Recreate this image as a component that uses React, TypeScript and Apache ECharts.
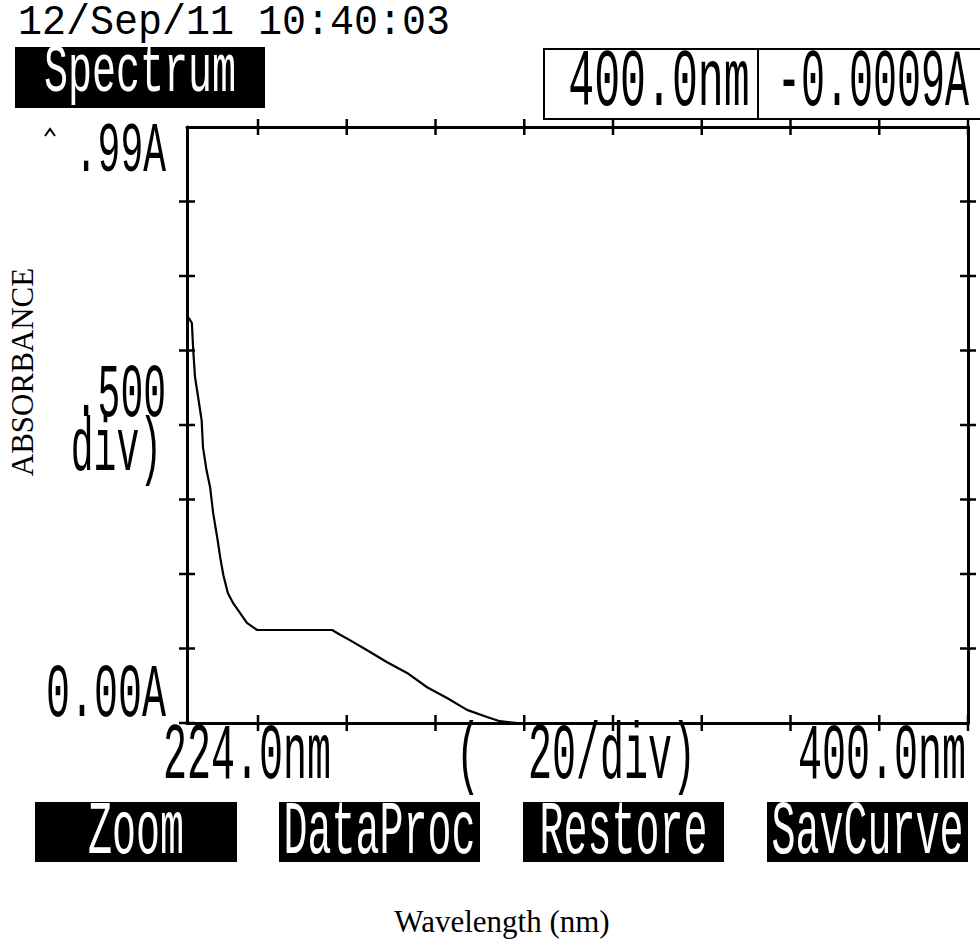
import { useEffect, useRef } from "react";
import * as echarts from "echarts";

// Absorbance spectrum, 224–400 nm
const wavelengthNm = [
  224.4, 225.1, 225.4, 225.8, 226.5, 227.3, 227.6, 228.4, 229.2, 229.9,
  230.9, 231.5, 232.2, 233.2, 234.4, 235.9, 237.5, 239.8, 245.0, 250.0,
  256.7, 258.5, 260.7, 264.6, 269.1, 273.6, 278.1, 282.6, 287.1, 291.6,
  294.5, 298.4, 320.0, 360.0, 400.0,
];
const absorbance = [
  0.68, 0.671, 0.626, 0.581, 0.547, 0.508, 0.463, 0.424, 0.396, 0.352,
  0.307, 0.277, 0.248, 0.218, 0.201, 0.185, 0.168, 0.156, 0.156, 0.156,
  0.156, 0.148, 0.139, 0.122, 0.102, 0.084, 0.06, 0.042, 0.022, 0.01,
  0.003, 0.0, 0.0, 0.0, -0.0009,
];

// Axis range and division marks
const xMin = 224;
const xMax = 400;
const yMin = 0;
const yMax = 1;
const xTickNm = [240, 260, 280, 300, 320, 340, 360, 380, 400];
const yTickAbs = [0, 0.125, 0.25, 0.375, 0.5, 0.625, 0.75, 0.875];

// Screen texts
const stamp = "12/Sep/11 10:40:03";
const modeTitle = "Spectrum";
const xEndLabels = ["224.0nm", "400.0nm"];
const xScaleLabel = "(  20/div)";
const yLabels = [".99A", ".500", "div)", "0.00A"];
const softKeys = ["Zoom", "DataProc", "Restore", "SavCurve"];
const yTitle = "ABSORBANCE";
const xTitle = "Wavelength (nm)";

const MONO = "'Liberation Mono', 'DejaVu Sans Mono', monospace";
const SERIF = "'Liberation Serif', 'Times New Roman', serif";

function lcdText(
  text: string,
  x: number,
  y: number,
  sx: number,
  sy: number,
  align: string,
  fill = "#000"
) {
  return {
    type: "text",
    x,
    y,
    scaleX: sx,
    scaleY: sy,
    silent: true,
    style: {
      text,
      fill,
      fontFamily: MONO,
      fontSize: 40,
      align,
      verticalAlign: "middle",
    },
  };
}

const frameLine = { color: "#000", width: 3 };

function frameAxis(kind: "x" | "y", position: string) {
  return {
    type: "value",
    position,
    min: kind === "x" ? xMin : yMin,
    max: kind === "x" ? xMax : yMax,
    axisLine: { show: true, onZero: false, lineStyle: frameLine },
    axisTick: { show: false },
    axisLabel: { show: false },
    splitLine: { show: false },
  };
}

// Cross-shaped division marks on all four sides of the frame: [x, y, orientation]
const crossMarks = [
  ...xTickNm.map((v) => [v, yMin, 0]),
  ...xTickNm.map((v) => [v, yMax, 0]),
  ...yTickAbs.map((v) => [xMin, v, 1]),
  ...yTickAbs.slice(1).map((v) => [xMax, v, 1]),
];

export default function App() {
  const ref = useRef<HTMLDivElement>(null);

  useEffect(() => {
    const chart = echarts.init(ref.current!, null, { renderer: "svg" });
    const last = wavelengthNm.length - 1;
    const cursorReadout = [
      `${wavelengthNm[last].toFixed(1)}nm`,
      `${absorbance[last].toFixed(4)}A`,
    ];

    const keyBoxes = [
      { x: 35, w: 202 },
      { x: 279, w: 201 },
      { x: 523, w: 201 },
      { x: 767, w: 201 },
    ];

    const graphic: any[] = [
      lcdText(stamp, 18, 23, 1.0, 1.05, "left"),
      { type: "rect", silent: true, shape: { x: 15, y: 47, width: 250, height: 61 }, style: { fill: "#000" } },
      lcdText(modeTitle, 140, 73, 1.0, 1.7, "center", "#fff"),
      {
        type: "rect",
        silent: true,
        shape: { x: 544, y: 49, width: 440, height: 70 },
        style: { fill: "none", stroke: "#000", lineWidth: 2 },
      },
      { type: "line", silent: true, shape: { x1: 758, y1: 49, x2: 758, y2: 119 }, style: { stroke: "#000", lineWidth: 2 } },
      lcdText(cursorReadout[0], 659, 83, 1.08, 2.05, "center"),
      lcdText(cursorReadout[1], 873, 83, 1.0, 2.05, "center"),
      lcdText(yLabels[0], 166, 152, 0.95, 1.75, "right"),
      { type: "polyline", silent: true, shape: { points: [[45, 136], [50, 129], [55, 136]] }, style: { stroke: "#000", lineWidth: 2, fill: "none" } },
      lcdText(yLabels[1], 166, 396, 0.95, 1.9, "right"),
      lcdText(yLabels[2], 162, 450, 0.95, 1.9, "right"),
      lcdText(yLabels[3], 166, 695, 1.0, 1.9, "right"),
      lcdText(xEndLabels[0], 163, 756, 1.0, 2.0, "left"),
      lcdText(xScaleLabel, 456, 756, 1.0, 2.0, "left"),
      lcdText(xEndLabels[1], 966, 756, 1.0, 2.0, "right"),
      {
        type: "text",
        x: 22,
        y: 372,
        rotation: Math.PI / 2,
        silent: true,
        style: { text: yTitle, fill: "#000", fontFamily: SERIF, fontSize: 31, align: "center", verticalAlign: "middle" },
      },
      {
        type: "text",
        x: 502,
        y: 921,
        silent: true,
        style: { text: xTitle, fill: "#000", fontFamily: SERIF, fontSize: 31, align: "center", verticalAlign: "middle" },
      },
    ];

    softKeys.forEach((label, i) => {
      const b = keyBoxes[i];
      graphic.push({
        type: "rect",
        silent: true,
        shape: { x: b.x, y: 802, width: b.w, height: 60 },
        style: { fill: "#000" },
      });
      graphic.push(lcdText(label, b.x + b.w / 2, 832, 1.0, 1.9, "center", "#fff"));
    });

    chart.setOption({
      animation: false,
      backgroundColor: "#fff",
      grid: { left: 187, right: 12, top: 127, bottom: 221, containLabel: false },
      xAxis: [frameAxis("x", "bottom"), frameAxis("x", "top")],
      yAxis: [frameAxis("y", "left"), frameAxis("y", "right")],
      series: [
        {
          type: "line",
          xAxisIndex: 0,
          yAxisIndex: 0,
          data: wavelengthNm.map((w, i) => [w, absorbance[i]]),
          showSymbol: false,
          symbol: "none",
          clip: true,
          lineStyle: { color: "#000", width: 2.2 },
          z: 3,
        },
        {
          type: "custom",
          xAxisIndex: 0,
          yAxisIndex: 0,
          clip: false,
          silent: true,
          data: crossMarks,
          renderItem: (_params: any, api: any) => {
            const p = api.coord([api.value(0), api.value(1)]);
            const half = 8;
            const vertical = api.value(2) === 0;
            return {
              type: "line",
              shape: vertical
                ? { x1: p[0], y1: p[1] - half, x2: p[0], y2: p[1] + half }
                : { x1: p[0] - half, y1: p[1], x2: p[0] + half, y2: p[1] },
              style: { stroke: "#000", lineWidth: 2.5 },
            };
          },
          z: 4,
        },
      ],
      graphic,
    });

    return () => chart.dispose();
  }, []);

  return (
    <div
      ref={ref}
      style={{ position: "fixed", left: 0, top: 0, width: 980, height: 944, background: "#fff" }}
    />
  );
}
